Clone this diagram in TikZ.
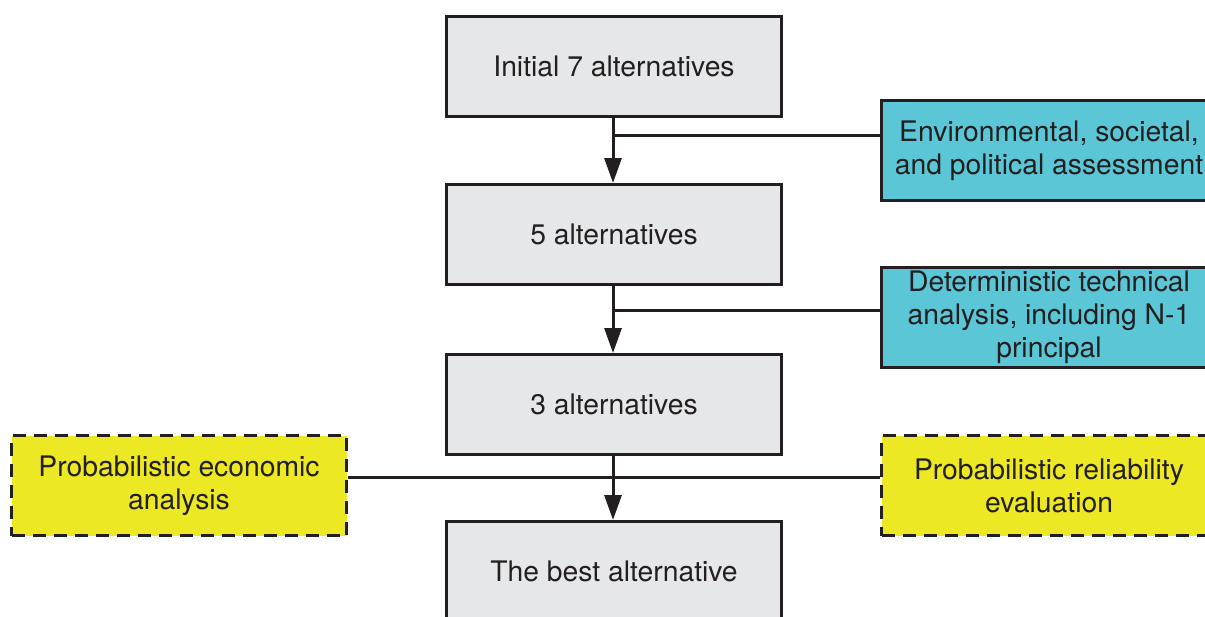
\documentclass[tikz,border=0pt]{standalone}
\usepackage{fontspec}
\setmainfont{TeX Gyre Heros}
\usetikzlibrary{arrows.meta}
\definecolor{boxgray}{HTML}{E6E7E8}
\definecolor{boxcyan}{HTML}{5BC6D6}
\definecolor{boxyellow}{HTML}{ECE823}
\definecolor{linegray}{HTML}{231F20}
\tikzset{
  base/.style={draw=linegray, line width=3pt, minimum width=335pt, minimum height=100pt,
    inner sep=0pt, align=center, text=linegray, font=\fontsize{28.3}{32.8}\selectfont, anchor=north west},
  graybox/.style={base, fill=boxgray},
  cyanbox/.style={base, fill=boxcyan},
  yellowbox/.style={base, fill=boxyellow, dash pattern=on 13pt off 8pt},
  conn/.style={draw=linegray, line width=3pt},
  arr/.style={conn, -{Triangle[length=25pt,width=17pt]}}
}
\begin{document}
\begin{tikzpicture}[x=1pt,y=-1pt]
\useasboundingbox (0,0) rectangle (1205,616);
\node[graybox] (a) at (445,15) {Initial 7 alternatives};
\node[graybox] (b) at (445,183) {5 alternatives};
\node[graybox] (c) at (445,353) {3 alternatives};
\node[graybox] (d) at (445,520) {The best alternative};
\node[cyanbox] (e) at (880,99) {Environmental, societal,\\and political assessment};
\node[cyanbox] (f) at (880,266) {Deterministic technical\\analysis, including N-1\\principal};
\node[yellowbox] (g) at (10,434) {Probabilistic economic\\analysis};
\node[yellowbox] (h) at (880,434) {Probabilistic reliability\\evaluation};
\coordinate (j1) at (613,135);
\coordinate (j2) at (613,310);
\coordinate (j3) at (613,477);
\draw[arr] (a.south -| j1) -- (b.north -| j1);
\draw[arr] (b.south -| j2) -- (c.north -| j2);
\draw[arr] (c.south -| j3) -- (d.north -| j3);
\draw[conn] (j1) -- (j1 -| e.west);
\draw[conn] (j2) -- (j2 -| f.west);
\draw[conn] (j3 -| g.east) -- (j3 -| h.west);
\end{tikzpicture}
\end{document}
